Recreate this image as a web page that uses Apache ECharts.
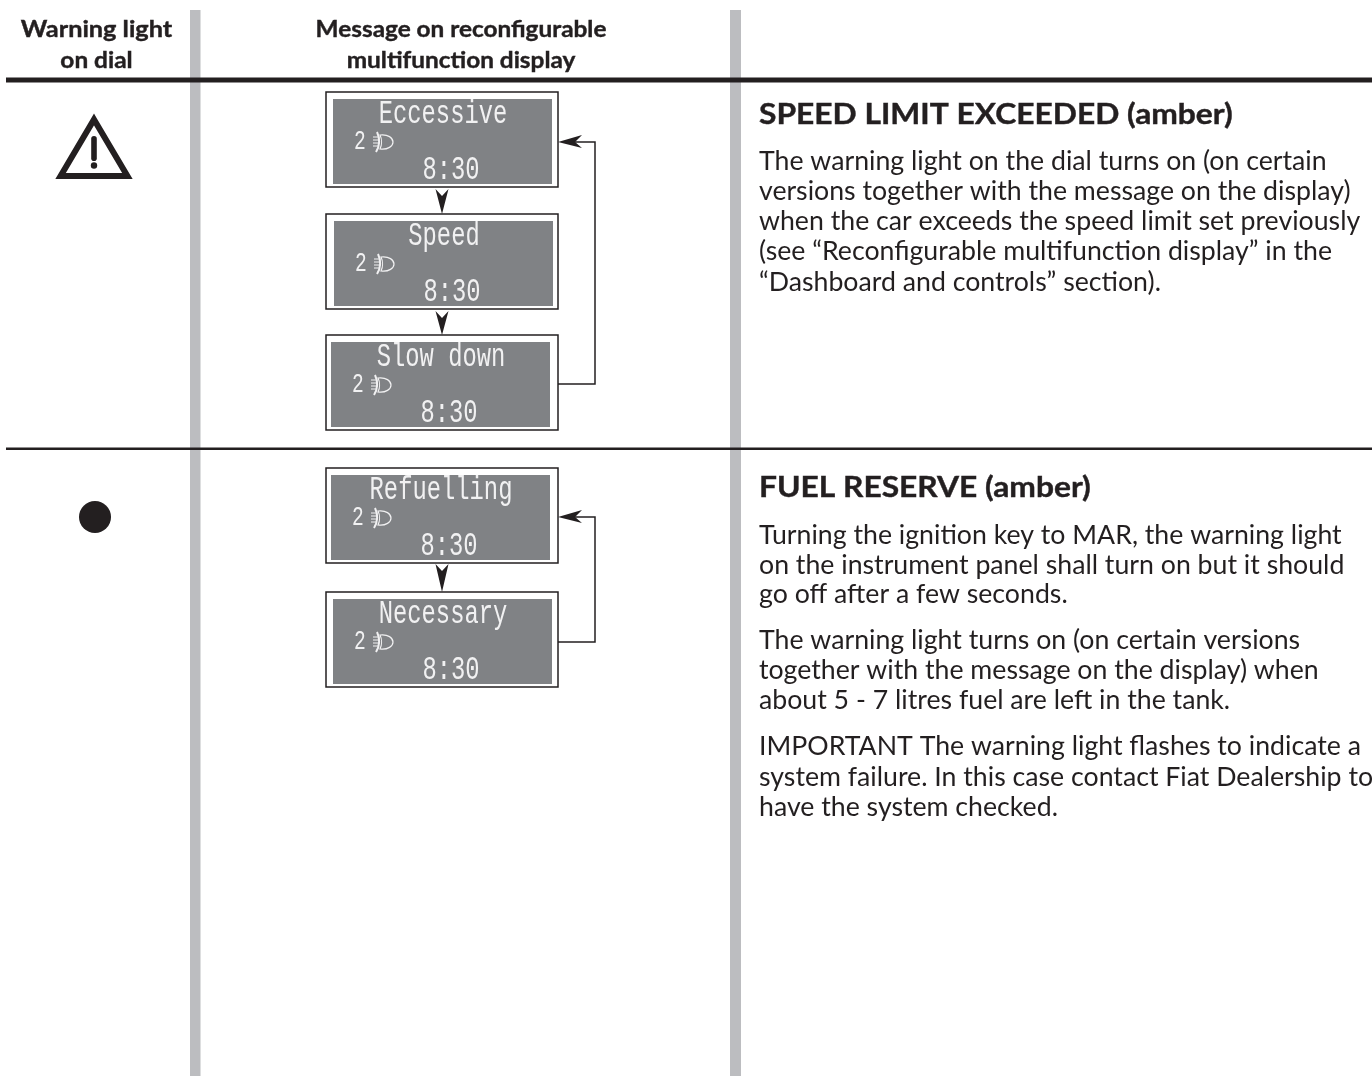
<!DOCTYPE html>
<html>
<head>
<meta charset="utf-8">
<title>Warning lights</title>
<script src="https://cdn.jsdelivr.net/npm/echarts@6/dist/echarts.min.js"></script>
<style>
  html, body { margin: 0; padding: 0; background: #fff; }
  #chart { width: 1372px; height: 1079px; }
</style>
</head>
<body>
<div id="chart"></div>
<script>
const headerLeft = ["Warning light", "on dial"];
const headerMiddle = ["Message on reconfigurable", "multifunction display"];

const messages = ["Eccessive", "Speed", "Slow down", "Refuelling", "Necessary"];
const gearLabel = "2";
const clockLabel = "8:30";

const speedTitle = "SPEED LIMIT EXCEEDED (amber)";
const speedLines = [
  "The warning light on the dial turns on (on certain",
  "versions together with the message on the display)",
  "when the car exceeds the speed limit set previously",
  "(see \u201cReconfigurable multifunction display\u201d in the",
  "\u201cDashboard and controls\u201d section)."
];
const fuelTitle = "FUEL RESERVE (amber)";
const fuelLines = [
  "Turning the ignition key to MAR, the warning light",
  "on the instrument panel shall turn on but it should",
  "go off after a few seconds.",
  "The warning light turns on (on certain versions",
  "together with the message on the display) when",
  "about 5 - 7 litres fuel are left in the tank.",
  "IMPORTANT The warning light flashes to indicate a",
  "system failure. In this case contact Fiat Dealership to",
  "have the system checked."
];

// layout, page pixels
const boxTop = [92, 214, 335, 468, 592];
const screenLeft = [333, 334, 331, 331, 333];
const speedLineY = [161, 191, 221, 251, 282];
const fuelLineY = [535, 565, 594, 640, 670, 700, 746, 777, 807];
const dark = "#231f20";
const bar = "#bcbdc0";
const screen = "#808285";

const bodyFont = "Lato";
const bodySize = 26.7;

function textEl(str, x, y, size, weight, align, scaleX) {
  return {
    type: "text",
    x: x, y: y,
    scaleX: scaleX || 1,
    silent: true,
    style: {
      text: str,
      fill: dark,
      stroke: weight === "bold" ? dark : null,
      lineWidth: weight === "bold" ? 0.4 : 0,
      font: (weight || "normal") + " " + size + "px " + bodyFont,
      align: align || "left",
      verticalAlign: "middle"
    }
  };
}

const graphicEls = [
  { type: "rect", shape: { x: 190, y: 10, width: 10.5, height: 1066 }, style: { fill: bar } },
  { type: "rect", shape: { x: 730, y: 10, width: 11, height: 1066 }, style: { fill: bar } },
  { type: "rect", shape: { x: 6, y: 77.5, width: 1366, height: 5 }, style: { fill: dark } },
  { type: "rect", shape: { x: 6, y: 447.5, width: 1366, height: 2.5 }, style: { fill: dark } },
  // warning triangle
  { type: "polygon", shape: { points: [[94, 119.5], [127.4, 176], [60.6, 176]] }, style: { fill: "none", stroke: dark, lineWidth: 6, lineJoin: "miter" } },
  { type: "rect", shape: { x: 91.2, y: 136, width: 5.6, height: 25, r: 2.8 }, style: { fill: dark } },
  { type: "circle", shape: { cx: 94, cy: 165.5, r: 3.2 }, style: { fill: dark } },
  // fuel light
  { type: "circle", shape: { cx: 95, cy: 517, r: 16 }, style: { fill: dark } }
];
graphicEls.push(textEl(headerLeft[0], 96.5, 30, 22, "bold", "center", 1.15));
graphicEls.push(textEl(headerLeft[1], 96.5, 61, 22, "bold", "center", 1.11));
headerMiddle.forEach((s, i) => graphicEls.push(textEl(s, 461, 30 + i * 31, 22, "bold", "center", 1.107)));
graphicEls.push(textEl(speedTitle, 759, 115, 28, "bold", "left", 1.134));
speedLines.forEach((s, i) => graphicEls.push(textEl(s, 759, speedLineY[i], bodySize)));
graphicEls.push(textEl(fuelTitle, 759, 488, 28, "bold", "left", 1.134));
fuelLines.forEach((s, i) => graphicEls.push(textEl(s, 759, fuelLineY[i], bodySize)));

const lampPath = "M47 43 C55 42 60 46 60 50 C60 54 55 58 47 57 C49 53 49 47 47 43 Z";
const lampArc = "M44 40 C47 46 47 54 43 60";
const lampRays = "M40 45 L46 45 M40 48 L47 48 M40 51 L47 51 M40 54 L46 54";

function renderDisplay(params, api) {
  const p = api.coord([api.value(0), api.value(1)]);
  const left = api.value(2);
  const msg = messages[params.dataIndex];
  const lcd = "#f1f1f2";
  return {
    type: "group",
    children: [
      { type: "rect", shape: { x: 326, y: p[1], width: 232, height: 95 }, style: { fill: "#fff", stroke: dark, lineWidth: 1.5 } },
      { type: "rect", shape: { x: left, y: p[1] + 7, width: 219, height: 85 }, style: { fill: screen } },
      {
        type: "text", x: left + 110, y: p[1] + 22, scaleX: 0.7,
        style: { text: msg, fill: lcd, font: "normal 34px 'Liberation Mono'", align: "center", verticalAlign: "middle" }
      },
      {
        type: "text", x: left + 27, y: p[1] + 50, scaleX: 0.7,
        style: { text: gearLabel, fill: lcd, font: "normal 28px 'Liberation Mono'", align: "center", verticalAlign: "middle" }
      },
      {
        type: "text", x: left + 118, y: p[1] + 78, scaleX: 0.7,
        style: { text: clockLabel, fill: lcd, font: "normal 34px 'Liberation Mono'", align: "center", verticalAlign: "middle" }
      },
      {
        type: "group", x: left, y: p[1],
        children: [
          { type: "path", shape: { pathData: lampPath }, style: { fill: "none", stroke: lcd, lineWidth: 1.2 } },
          { type: "path", shape: { pathData: lampArc }, style: { fill: "none", stroke: lcd, lineWidth: 2 } },
          { type: "path", shape: { pathData: lampRays }, style: { fill: "none", stroke: lcd, lineWidth: 1 } }
        ]
      }
    ]
  };
}

// down arrow between two boxes
function renderDown(params, api) {
  const a = api.coord([442, api.value(0)]);
  const b = api.coord([442, api.value(1)]);
  return {
    type: "polygon",
    shape: { points: [[b[0], b[1]], [b[0] - 6.5, a[1] + 1], [b[0], a[1] + 8], [b[0] + 6.5, a[1] + 1]] },
    style: { fill: dark }
  };
}

// return line going from a lower box back up to the first box of the group
function renderLoop(params, api) {
  const top = api.coord([558, api.value(0)]);
  const low = api.coord([558, api.value(1)]);
  return {
    type: "group",
    children: [
      { type: "polyline", shape: { points: [[558, low[1]], [595, low[1]], [595, top[1]], [575, top[1]]] }, style: { fill: "none", stroke: dark, lineWidth: 1.5 } },
      { type: "polygon", shape: { points: [[558, top[1]], [582, top[1] - 7], [575, top[1]], [582, top[1] + 6]] }, style: { fill: dark } }
    ]
  };
}

const chart = echarts.init(document.getElementById("chart"), null, { renderer: "canvas" });
chart.setOption({
  animation: false,
  backgroundColor: "#ffffff",
  grid: { left: 0, top: 0, right: 0, bottom: 0 },
  xAxis: { type: "value", min: 0, max: 1372, show: false },
  yAxis: { type: "value", min: 0, max: 1079, inverse: true, show: false },
  graphic: { elements: graphicEls },
  series: [
    {
      type: "custom", name: "display", silent: true, clip: false,
      renderItem: renderDisplay,
      data: boxTop.map((t, i) => [325, t, screenLeft[i]])
    },
    {
      type: "custom", name: "next", silent: true, clip: false,
      renderItem: renderDown,
      data: [[188, 214], [310, 335], [563, 592]]
    },
    {
      type: "custom", name: "back", silent: true, clip: false,
      renderItem: renderLoop,
      data: [[142, 384], [517, 642]]
    }
  ]
});
</script>
</body>
</html>
